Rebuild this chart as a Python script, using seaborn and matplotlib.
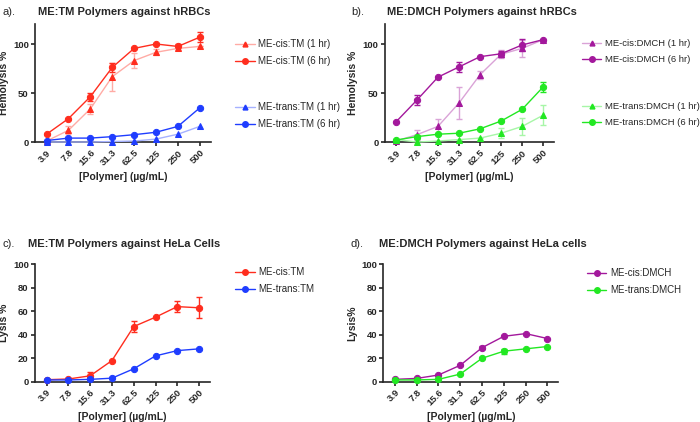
import numpy as np
import pandas as pd
import seaborn as sns
import matplotlib.pyplot as plt
from matplotlib.lines import Line2D
import matplotlib.colors as mcolors

sns.set_style('ticks')
plt.rcParams['font.family'] = ['Liberation Sans', 'DejaVu Sans']

# x categories
conc = ['3.9', '7.8', '15.6', '31.3', '62.5', '125', '250', '500']

# panel a: ME:TM vs hRBCs
cis_tm_1h = [1, 12, 34, 67, 83.5, 92, 96, 98]
cis_tm_1h_err = [0, 4, 5, 14.5, 8, 3, 2, 0]
cis_tm_6h = [8, 24, 46.5, 76.5, 96, 100.5, 98, 107.5]
cis_tm_6h_err = [0, 0, 4, 5, 0, 0, 2, 5]
trans_tm_1h = [0, 0, 0, 0.5, 1, 3, 8, 16]
trans_tm_6h = [1.5, 4, 4, 5.5, 7.5, 10, 16, 35]

# panel b: ME:DMCH vs hRBCs
cis_dm_1h = [1, 7.5, 16, 40, 69, 90, 96, 105]
cis_dm_1h_err = [0, 5, 8, 16, 4, 4, 9, 0]
cis_dm_6h = [20.5, 43, 66.5, 77, 87.5, 90.5, 99.5, 105]
cis_dm_6h_err = [0, 5, 0, 5, 0, 3, 6, 0]
trans_dm_1h = [2.5, 0, 1, 2.5, 4, 9, 16, 27.5]
trans_dm_1h_err = [0, 0, 0, 0, 0, 5, 9, 10]
trans_dm_6h = [2, 5.5, 8, 9, 13.5, 21.5, 33.5, 56.5]
trans_dm_6h_err = [0, 2, 0, 0, 0, 0, 0, 5]

# panel c: ME:TM vs HeLa
cis_tm_hela = [1.7, 2.3, 5, 18, 47, 55, 64, 63]
cis_tm_hela_err = [0, 0, 3, 0, 5, 0, 4.5, 9]
trans_tm_hela = [1.5, 1.5, 2, 3, 11, 22, 26.5, 28]

# panel d: ME:DMCH vs HeLa
cis_dm_hela = [2, 2.8, 5.7, 14, 29, 38.7, 41, 36.8]
cis_dm_hela_err = [0, 0, 0, 0, 1.5, 0, 0, 0]
trans_dm_hela = [1.5, 1.5, 2, 6.5, 20, 26, 28, 30]
trans_dm_hela_err = [0, 0, 0, 0, 0, 2, 0, 0]

RED = '#ff2d1e'
BLUE = '#1f3dff'
PURPLE = '#a3189c'
GREEN = '#22e822'


def light(c, f=0.6):
    r = np.array(mcolors.to_rgb(c))
    return tuple(r + (1 - r) * f)


def series(ax, vals, err, color, marker, faded, label):
    lc = light(color) if faded else color
    df = pd.DataFrame({'conc': conc, 'val': vals})
    sns.lineplot(data=df, x='conc', y='val', ax=ax, color=lc, lw=1.0,
                 marker=marker, markersize=4.5 if marker == 'o' else 4.2,
                 markerfacecolor=color, markeredgecolor=color,
                 label=label, clip_on=False, zorder=3, legend=False)
    if err is not None:
        ax.errorbar(conc, vals, yerr=err, fmt='none', ecolor=lc, elinewidth=1,
                    capsize=2.5, capthick=1, zorder=2, clip_on=False)
    return Line2D([], [], color=lc, lw=1.0, marker=marker,
                  markersize=4 if marker == 'o' else 3.5,
                  markerfacecolor=color, markeredgecolor=color, label=label)


def style(ax, ylim, yticks, ylabel):
    ax.set_ylim(*ylim)
    ax.set_xlim(-0.53, 7.5)
    ax.set_yticks(yticks)
    sns.despine(ax=ax)
    for s in ['left', 'bottom']:
        ax.spines[s].set_linewidth(1.2)
    ax.tick_params(width=1.2, length=3, labelsize=6.8, pad=1.5)
    ax.tick_params(axis='x', rotation=45)
    for t in ax.get_xticklabels():
        t.set_ha('right')
        t.set_rotation_mode('anchor')
        t.set_fontweight('bold')
    for t in ax.get_yticklabels():
        t.set_fontweight('bold')
    ax.set_xlabel('[Polymer] (µg/mL)', fontsize=7.5, fontweight='bold', labelpad=3)
    ax.set_ylabel(ylabel, fontsize=7.5, fontweight='bold', labelpad=3)


def legend(handles, x, y, fs=7):
    fig.legend(handles=handles, loc='upper left', bbox_to_anchor=(x, y),
               frameon=False, fontsize=fs, handlelength=2.0,
               handletextpad=0.35, labelspacing=0.75 * 7 / fs,
               borderaxespad=0, borderpad=0)


fig = plt.figure(figsize=(7, 4.22), dpi=100)

# a
ax = fig.add_axes([0.05, 0.6635, 0.251, 0.2796])
h1 = series(ax, cis_tm_1h, cis_tm_1h_err, RED, '^', True, 'ME-cis:TM (1 hr)')
h2 = series(ax, cis_tm_6h, cis_tm_6h_err, RED, 'o', False, 'ME-cis:TM (6 hr)')
h3 = series(ax, trans_tm_1h, None, BLUE, '^', True, 'ME-trans:TM (1 hr)')
h4 = series(ax, trans_tm_6h, None, BLUE, 'o', False, 'ME-trans:TM (6 hr)')
style(ax, (0, 121), [0, 50, 100], 'Hemolysis %')
legend([h1, h2], 0.336, 1 - 39 / 422)
legend([h3, h4], 0.336, 1 - 102 / 422)

# b
ax = fig.add_axes([0.5496, 0.6635, 0.2414, 0.2796])
h1 = series(ax, cis_dm_1h, cis_dm_1h_err, PURPLE, '^', True, 'ME-cis:DMCH (1 hr)')
h2 = series(ax, cis_dm_6h, cis_dm_6h_err, PURPLE, 'o', False, 'ME-cis:DMCH (6 hr)')
h3 = series(ax, trans_dm_1h, trans_dm_1h_err, GREEN, '^', True, 'ME-trans:DMCH (1 hr)')
h4 = series(ax, trans_dm_6h, trans_dm_6h_err, GREEN, 'o', False, 'ME-trans:DMCH (6 hr)')
style(ax, (0, 121), [0, 50, 100], 'Hemolysis %')
legend([h1, h2], 0.832, 1 - 39 / 422, fs=6.8)
legend([h3, h4], 0.832, 1 - 102 / 422, fs=6.8)

# c
ax = fig.add_axes([0.05, 0.0955, 0.25, 0.278])
h1 = series(ax, cis_tm_hela, cis_tm_hela_err, RED, 'o', False, 'ME-cis:TM')
h2 = series(ax, trans_tm_hela, None, BLUE, 'o', False, 'ME-trans:TM')
style(ax, (0, 100), [0, 20, 40, 60, 80, 100], 'Lysis %')
legend([h1, h2], 0.336, 1 - 267 / 422)

# d
ax = fig.add_axes([0.5476, 0.0955, 0.25, 0.278])
h1 = series(ax, cis_dm_hela, cis_dm_hela_err, PURPLE, 'o', False, 'ME-cis:DMCH')
h2 = series(ax, trans_dm_hela, trans_dm_hela_err, GREEN, 'o', False, 'ME-trans:DMCH')
style(ax, (0, 100), [0, 20, 40, 60, 80, 100], 'Lysis%')
legend([h1, h2], 0.8386, 1 - 268 / 422)

# panel titles
fs = 8
fig.text(0.003, 1 - 12 / 422, 'a).', fontsize=fs, va='center')
fig.text(0.054, 1 - 12 / 422, 'ME:TM Polymers against hRBCs', fontsize=fs, fontweight='bold', va='center')
fig.text(0.502, 1 - 12 / 422, 'b).', fontsize=fs, va='center')
fig.text(0.553, 1 - 12 / 422, 'ME:DMCH Polymers against hRBCs', fontsize=fs, fontweight='bold', va='center')
fig.text(0.003, 1 - 244 / 422, 'c).', fontsize=fs, va='center')
fig.text(0.04, 1 - 244 / 422, 'ME:TM Polymers against HeLa Cells', fontsize=fs, fontweight='bold', va='center')
fig.text(0.501, 1 - 244 / 422, 'd).', fontsize=fs, va='center')
fig.text(0.541, 1 - 244 / 422, 'ME:DMCH Polymers against HeLa cells', fontsize=fs, fontweight='bold', va='center')

fig.savefig('out.png', dpi=100, facecolor='white')
